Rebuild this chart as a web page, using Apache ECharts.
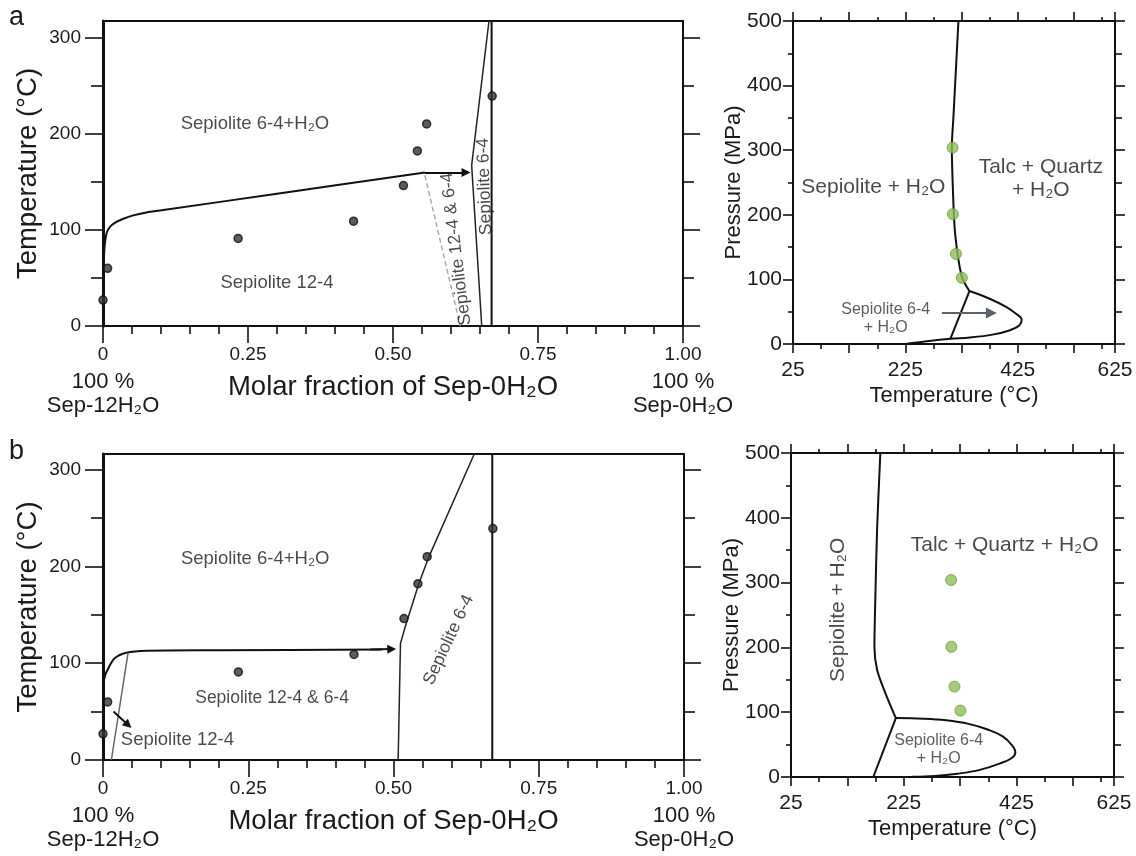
<!DOCTYPE html>
<html>
<head>
<meta charset="utf-8">
<script src="https://cdn.jsdelivr.net/npm/echarts@6/dist/echarts.min.js"></script>
<style>
  html, body { margin: 0; padding: 0; background: #fff; }
  #chart { width: 1136px; height: 856px; }
</style>
</head>
<body>
<div id="chart"></div>
<script>
// --- measured samples (same runs in a and b): molar fraction of Sep-0H2O vs T (°C)
var sampleX = [0, 0.008, 0.233, 0.432, 0.518, 0.542, 0.558, 0.671]
var sampleT = [27, 60, 91, 109, 146, 182, 210, 239]

// --- panel a, composition diagram
var aCurve = [[0, 0], [0.001, 40], [0.002, 76], [0.006, 96], [0.012, 103], [0.021, 107.5], [0.035, 111.5],
  [0.052, 115], [0.075, 118], [0.098, 120], [0.3, 137.5], [0.555, 159.5]]
var aArrow = [[0.555, 159.5], [0.626, 159.5]]
var aDashed = [[0.555, 156.5], [0.616, 0]]
var a64 = [[0.6655, 317], [0.6356, 167], [0.653, 0]]
var aEnd = [[0.67, 0], [0.67, 317]]

// --- panel b, composition diagram
var bCurve = [[0, 0], [0.001, 40], [0.001, 79], [0.004, 88], [0.009, 94.6], [0.02, 105], [0.04, 110.7],
  [0.075, 112.8], [0.2, 113.3], [0.48, 114.2]]
var bArrow = [[0.46, 114.1], [0.497, 114.5]]
var b124 = [[0.0144, 0], [0.0431, 110.7]]
var b64 = [[0.508, 0], [0.512, 120.4], [0.5202, 137.6], [0.5437, 182.3], [0.5609, 209.8], [0.639, 316]]
var bEnd = [[0.67, 0], [0.67, 316]]
var bSmallArrow = [[0.018, 50], [0.0433, 36.1]]

// --- P-T panels: run temperature (°C) and pressure (MPa)
var runT = [309, 309.5, 315, 325.5]
var runP = [304, 201, 139.5, 102.5]

var cUpper = [[319.4, 500], [314.6, 420], [310.5, 351.5], [307.7, 305], [309.4, 243], [313.5, 171], [325.4, 104], [339, 82]]
var cLoop = [[339, 82], [375, 70], [405, 57], [423, 46], [432, 38], [428, 29], [410, 21], [380, 14.5], [340, 10],
  [305, 8], [260, 4], [228, 0.5]]
var cInner = [[339, 82], [305, 8]]
var cArrow = [[290, 48], [378, 48]]

var dUpper = [[183.5, 500], [177.7, 381.6], [174.7, 278.7], [173, 201.5], [177.7, 165.6], [192.4, 129.6], [211, 91]]
var dLoop = [[211, 91], [260, 90], [300, 87.5], [340, 82], [375, 73], [400, 63], [416, 50], [423, 38], [416, 29],
  [396, 21], [360, 11], [320, 5], [280, 1.5], [240, 0.3], [172, 0]]
var dInner = [[211, 91], [171, 0]]

// --- ticks and labels
var fracTicks = [0, 0.25, 0.5, 0.75, 1]
var fracMinor = [0.05, 0.1, 0.15, 0.2, 0.3, 0.35, 0.4, 0.45, 0.55, 0.6, 0.65, 0.7, 0.8, 0.85, 0.9, 0.95]
var tempTicks = [0, 100, 200, 300]
var tempMinor = [50, 150, 250]
var presTicks = [0, 100, 200, 300, 400, 500]
var presMinor = [50, 150, 250, 350, 450]
var ptMax = 598
var ptTicks = [25, 125, 225, 325, 425, 525, ptMax]
var ptMinor = [75, 175, 275, 375, 475, 575]
var ptLabels = [25, 225, 425, ptMax]

// --- text annotations [text, x, y, rotate, fontSize]
var aNotes = [
  ['Sepiolite 6-4+H₂O', 0.262, 210, 0, 18.5],
  ['Sepiolite 12-4', 0.3, 45, 0, 18.5],
  ['Sepiolite 12-4 & 6-4', 0.609, 80, 97, 17.5],
  ['Sepiolite 6-4', 0.658, 145, 92, 17.5]
]
var bNotes = [
  ['Sepiolite 6-4+H₂O', 0.262, 208, 0, 18.5],
  ['Sepiolite 12-4 & 6-4', 0.291, 64, 0, 17.5],
  ['Sepiolite 12-4', 0.128, 21, 0, 18.5],
  ['Sepiolite 6-4', 0.595, 124, 65, 17.5]
]
var cNotes = [
  ['Sepiolite + H₂O', 168, 242, 0, 21],
  ['Talc + Quartz\n+ H₂O', 466, 256, 0, 21],
  ['Sepiolite 6-4\n+ H₂O', 190, 39, 0, 16]
]
var dNotes = [
  ['Sepiolite + H₂O', 108, 258, 90, 21],
  ['Talc + Quartz + H₂O', 404, 358, 0, 21],
  ['Sepiolite 6-4\n+ H₂O', 287, 42, 0, 16]
]

var INK = '#111'
var TEXT = '#1a1a1a'
var FONT = "'Liberation Sans', Arial, Helvetica, sans-serif"

var xAxes = []
var yAxes = []
var X = []
var Y = []

function addAxis(list, g, pos, min, max, o) {
  list.push({
    type: 'value', gridIndex: g, position: pos, min: min, max: max,
    axisLine: { show: !!o.lw, onZero: false, lineStyle: { color: INK, width: o.lw || 1 } },
    axisTick: { show: !!o.ticks, customValues: o.ticks, length: o.len, lineStyle: { color: INK, width: 1.6 } },
    axisLabel: o.labels ? {
      show: true, customValues: o.labels, formatter: o.fmt, margin: o.margin,
      fontSize: o.fs, color: TEXT, fontFamily: FONT, rich: o.rich
    } : { show: false },
    splitLine: { show: false },
    name: o.name, nameLocation: 'middle', nameGap: o.nameGap, nameMoveOverlap: false,
    nameTextStyle: { fontSize: o.nameFs, color: TEXT, fontFamily: FONT }
  })
  return list.length - 1
}

function fracLabel(v) {
  if (v === 0) return '{t|0}\n{s|100 %}\n{s|Sep-12H₂O}'
  if (v === 1) return '{t|1.00}\n{s|100 %}\n{s|Sep-0H₂O}'
  return '{t|' + v.toFixed(2) + '}'
}

var fracRich = {
  t: { fontSize: 19, lineHeight: 30, color: TEXT, fontFamily: FONT },
  s: { fontSize: 22, lineHeight: 24, color: TEXT, fontFamily: FONT }
}

function compositionFrame(g, yMax) {
  X[g] = addAxis(xAxes, g, 'bottom', 0, 1, { lw: 2, ticks: fracTicks, len: 17, labels: fracTicks, fmt: fracLabel,
    margin: 14, rich: fracRich, name: 'Molar fraction of Sep-0H₂O', nameGap: 47, nameFs: 27.5 })
  addAxis(xAxes, g, 'bottom', 0, 1, { ticks: fracMinor, len: 8 })
  addAxis(xAxes, g, 'top', 0, 1, { lw: 2 })
  Y[g] = addAxis(yAxes, g, 'left', 0, yMax, { lw: 3, ticks: tempTicks, len: 18, labels: tempTicks, margin: 22,
    fs: 19, name: 'Temperature (°C)', nameGap: 61, nameFs: 27.5 })
  addAxis(yAxes, g, 'left', 0, yMax, { ticks: tempMinor, len: 12 })
  addAxis(yAxes, g, 'right', 0, yMax, { lw: 2, ticks: tempTicks, len: 17 })
  addAxis(yAxes, g, 'right', 0, yMax, { ticks: tempMinor, len: 11 })
}

function ptFrame(g) {
  X[g] = addAxis(xAxes, g, 'bottom', 25, ptMax, { lw: 2, ticks: ptTicks, len: 9, labels: ptLabels,
    fmt: function(v) { return v === ptMax ? '625' : String(v) }, margin: 16, fs: 21,
    name: 'Temperature (°C)', nameGap: 41, nameFs: 22 })
  addAxis(xAxes, g, 'bottom', 25, ptMax, { ticks: ptMinor, len: 5 })
  addAxis(xAxes, g, 'top', 25, ptMax, { lw: 2, ticks: ptTicks, len: 9 })
  addAxis(xAxes, g, 'top', 25, ptMax, { ticks: ptMinor, len: 4 })
  Y[g] = addAxis(yAxes, g, 'left', 0, 500, { lw: 2, ticks: presTicks, len: 10, labels: presTicks, margin: 11,
    fs: 21, name: 'Pressure (MPa)', nameGap: 48, nameFs: 22 })
  addAxis(yAxes, g, 'left', 0, 500, { ticks: presMinor, len: 5 })
  addAxis(yAxes, g, 'right', 0, 500, { lw: 2, ticks: presTicks, len: 10 })
  addAxis(yAxes, g, 'right', 0, 500, { ticks: presMinor, len: 7 })
}

compositionFrame(0, 317)
ptFrame(1)
compositionFrame(2, 316)
ptFrame(3)

function line(g, data, o) {
  o = o || {}
  return {
    type: 'line', xAxisIndex: X[g], yAxisIndex: Y[g], data: data, symbol: 'none', showSymbol: false,
    smooth: o.smooth || 0, silent: true, z: 3,
    lineStyle: { color: o.color || INK, width: o.width || 2, type: o.type || 'solid' }
  }
}

function arrow(g, data, o) {
  o = o || {}
  return {
    type: 'lines', coordinateSystem: 'cartesian2d', xAxisIndex: X[g], yAxisIndex: Y[g], polyline: false,
    symbol: ['none', 'triangle'], symbolSize: o.size || 9, silent: true, z: 4,
    lineStyle: { color: o.color || INK, width: o.width || 2, opacity: 1, curveness: 0 },
    itemStyle: { color: o.color || INK },
    data: [{ coords: data }]
  }
}

function dots(g, xs, ys, style, size) {
  return {
    type: 'scatter', xAxisIndex: X[g], yAxisIndex: Y[g], symbolSize: size, silent: true, z: 5,
    itemStyle: style,
    data: xs.map(function(x, i) { return [x, ys[i]] })
  }
}

function notes(g, items) {
  return {
    type: 'scatter', xAxisIndex: X[g], yAxisIndex: Y[g], symbolSize: 0, silent: true, z: 6,
    itemStyle: { color: 'rgba(0,0,0,0)' },
    label: { show: true, position: 'inside', formatter: '{b}', fontFamily: FONT, color: TEXT },
    data: items.map(function(n) {
      var small = n[4] <= 16
      return {
        name: n[0], value: [n[1], n[2]],
        label: { rotate: n[3], fontSize: n[4], lineHeight: small ? 18 : 23, color: small ? '#333' : TEXT }
      }
    })
  }
}

var blackDot = { color: '#333', borderColor: '#111', borderWidth: 1.5 }
var greenDot = { color: '#8cc152', borderColor: '#6a9c3a', borderWidth: 1 }

var series = [
  // a
  line(0, aCurve, { smooth: 0.3 }),
  arrow(0, aArrow),
  line(0, aDashed, { color: '#aaa', width: 1.5, type: [5, 3] }),
  line(0, a64, { color: '#222', width: 1.5 }),
  line(0, aEnd, { width: 2 }),
  dots(0, sampleX, sampleT, blackDot, 8),
  notes(0, aNotes),
  // a, P-T
  line(1, cUpper, { smooth: 0.3 }),
  line(1, cLoop, { smooth: 0.4 }),
  line(1, cInner),
  arrow(1, cArrow, { color: '#59636e', size: 11 }),
  dots(1, runT, runP, greenDot, 11),
  notes(1, cNotes),
  // b
  line(2, bCurve, { smooth: 0.3 }),
  arrow(2, bArrow),
  line(2, b124, { color: '#666', width: 1.5 }),
  line(2, b64, { color: '#222', width: 1.5 }),
  line(2, bEnd, { width: 2 }),
  arrow(2, bSmallArrow, { size: 9 }),
  dots(2, sampleX, sampleT, blackDot, 8),
  notes(2, bNotes),
  // b, P-T
  line(3, dUpper, { smooth: 0.3 }),
  line(3, dLoop, { smooth: 0.4 }),
  line(3, dInner),
  dots(3, runT, runP, greenDot, 11),
  notes(3, dNotes)
]

var chart = echarts.init(document.getElementById('chart'), null, { renderer: 'canvas' })
chart.setOption({
  animation: false,
  backgroundColor: '#fff',
  textStyle: { fontFamily: FONT },
  title: [
    { text: 'a', left: 9, top: 4, padding: 0, textStyle: { fontSize: 27, fontWeight: 'normal', color: TEXT, fontFamily: FONT } },
    { text: 'b', left: 9, top: 438, padding: 0, textStyle: { fontSize: 27, fontWeight: 'normal', color: TEXT, fontFamily: FONT } }
  ],
  grid: [
    { left: 103, top: 21, width: 580, height: 305, containLabel: false, outerBoundsMode: 'none' },
    { left: 793, top: 21, width: 322, height: 323, containLabel: false, outerBoundsMode: 'none' },
    { left: 103, top: 454, width: 581, height: 306, containLabel: false, outerBoundsMode: 'none' },
    { left: 791, top: 453, width: 323, height: 324, containLabel: false, outerBoundsMode: 'none' }
  ],
  xAxis: xAxes,
  yAxis: yAxes,
  series: series
})
</script>
</body>
</html>
